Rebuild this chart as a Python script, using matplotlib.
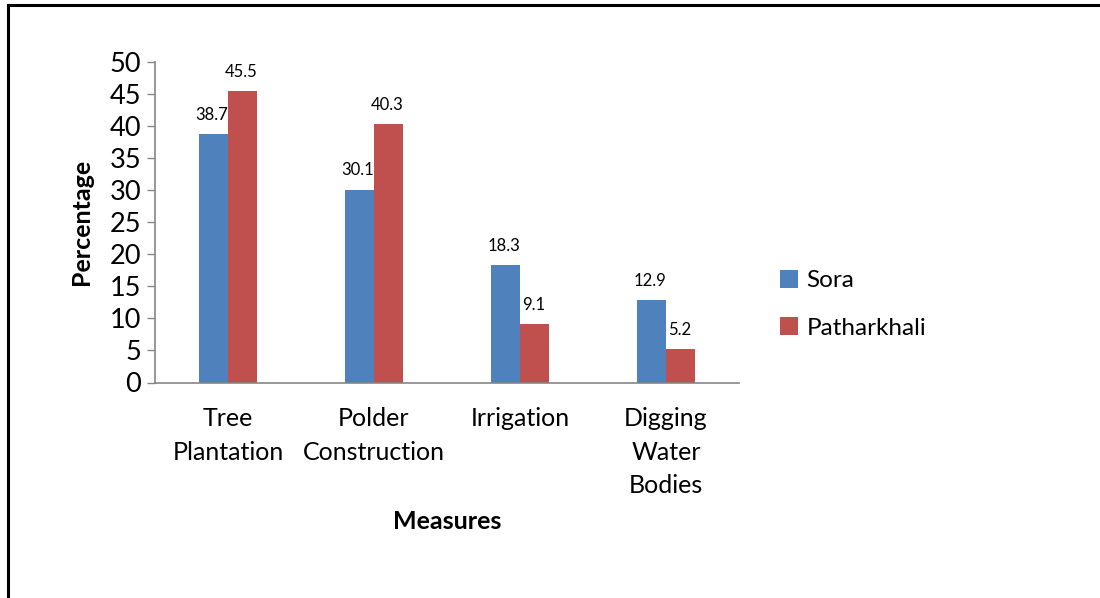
import matplotlib
matplotlib.use("Agg")
import matplotlib.pyplot as plt
from matplotlib.lines import Line2D
import numpy as np

categories = ["Tree\nPlantation", "Polder\nConstruction", "Irrigation", "Digging\nWater\nBodies"]
series_names = ["Sora", "Patharkhali"]
sora = [38.7, 30.1, 18.3, 12.9]
patharkhali = [45.5, 40.3, 9.1, 5.2]
yticks = [0, 5, 10, 15, 20, 25, 30, 35, 40, 45, 50]

BLUE = "#4F81BD"
RED = "#C0504D"
AXC = "#868686"
FONT = "Lato"

plt.rcParams['font.family'] = [FONT, 'DejaVu Sans']

fig = plt.figure(figsize=(11, 5.98), dpi=100)
ax = fig.add_axes([155/1100, 1-382.5/598, 584/1100, 320.5/598])

x = np.arange(len(categories))
w = 0.2
b1 = ax.bar(x - w/2, sora, w, color=BLUE, label=series_names[0])
b2 = ax.bar(x + w/2, patharkhali, w, color=RED, label=series_names[1])

for bars, vals in ((b1, sora), (b2, patharkhali)):
    for r, v in zip(bars, vals):
        ax.annotate(f"{v}", (r.get_x() + r.get_width()/2, v), xytext=(-1, 8),
                    textcoords="offset points", ha="center", va="bottom",
                    fontsize=12, color="black")

ax.set_xlim(-0.5, len(categories) - 0.5)
ax.set_ylim(0, 50)
ax.set_yticks(yticks)
ax.set_yticklabels([str(t) for t in yticks], fontsize=19.5)
ax.set_xticks(x)
ax.set_xticklabels(categories, fontsize=18, linespacing=1.55, va="top")
ax.tick_params(axis="x", length=0, pad=18)
ax.tick_params(axis="y", length=6, width=1, color=AXC, pad=4)

for s in ("top", "right"):
    ax.spines[s].set_visible(False)
for s in ("left", "bottom"):
    ax.spines[s].set_color(AXC)
    ax.spines[s].set_linewidth(1.2)

ax.set_ylabel("Percentage", fontsize=18, fontweight="bold", labelpad=12)
ax.set_xlabel("Measures", fontsize=18, fontweight="bold", labelpad=9)

leg = ax.legend(loc="upper left", bbox_to_anchor=(770/1100, 1-260/598),
                bbox_transform=fig.transFigure, frameon=False, fontsize=17.5,
                handlelength=0.75, handleheight=0.75, handletextpad=0.35,
                labelspacing=1.08, borderaxespad=0)

# outer chart border (top and left)
fig.add_artist(Line2D([8/1100, 1], [1-5/598, 1-5/598], color="black", lw=2.2,
                      transform=fig.transFigure))
fig.add_artist(Line2D([8/1100, 8/1100], [0, 1-5/598], color="black", lw=2.2,
                      transform=fig.transFigure))

fig.savefig("out.png", dpi=100)
